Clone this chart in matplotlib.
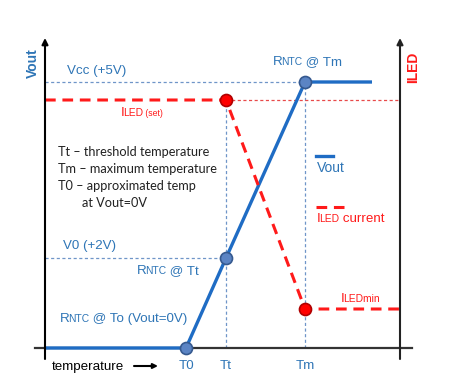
import matplotlib
matplotlib.use('Agg')
import matplotlib.pyplot as plt
import matplotlib.transforms as mtransforms

plt.rcParams['font.family'] = ['Liberation Sans', 'DejaVu Sans']

# temperature axis (arbitrary units), output level (arbitrary units)
t_labels = ['T0', 'Tt', 'Tm']
t_pos = [141, 181, 260]
t_end = 327          # end of Vout plateau
t_right = 355        # right (ILED) axis

vout_x = [0, 141, 181, 260, 327]
vout_y = [0, 0, 90, 266, 266]
vout_pts_x = [141, 181, 260]
vout_pts_y = [0, 90, 266]

iled_x = [0, 181, 260, 355]
iled_y = [248, 248, 39, 39]
iled_pts_x = [181, 260]
iled_pts_y = [248, 39]

v_cc, v_0 = 266, 90
iled_set = 248

BLUE = '#1f6cc4'
TBLUE = '#2e75b6'
RED = '#ff1a1a'
DOT = '#6f95c8'
FS = 9.6     # base label size
SC = 7.4     # small caps size

fig = plt.figure(figsize=(4.64, 3.9), dpi=100)
ax = fig.add_axes([0, 0, 1, 1])
ax.set_xlim(-45, 419)
ax.set_ylim(-42, 348)
ax.axis('off')

# helper lines
ax.plot([0, t_pos[2]], [v_cc, v_cc], color=DOT, lw=0.9, ls=(0, (2.5, 2)))
ax.plot([0, t_pos[1]], [v_0, v_0], color=DOT, lw=0.9, ls=(0, (2.5, 2)))
ax.plot([t_pos[1], t_pos[1]], [0, iled_set], color=DOT, lw=0.9, ls=(0, (2.5, 2)))
ax.plot([t_pos[2], t_pos[2]], [0, v_cc], color=DOT, lw=0.9, ls=(0, (2.5, 2)))
ax.plot([t_pos[1], t_right], [iled_set, iled_set], color='#e84a4a', lw=0.9, ls=(0, (2.5, 2)))

# axes
ax.plot([-10, 367], [0, 0], color='#333333', lw=1.6)
ax.annotate('', xy=(0, 310), xytext=(0, -11),
            arrowprops=dict(arrowstyle='-|>', color='black', lw=1.5, mutation_scale=9, shrinkA=0, shrinkB=0))
ax.annotate('', xy=(t_right, 310), xytext=(t_right, -11),
            arrowprops=dict(arrowstyle='-|>', color='#222222', lw=1.5, mutation_scale=9, shrinkA=0, shrinkB=0))

# curves
ax.plot(vout_x, vout_y, color=BLUE, lw=2.4, solid_capstyle='butt')
ax.plot(iled_x, iled_y, color=RED, lw=2.2, ls=(0, (3.5, 2.2)))
ax.scatter(vout_pts_x, vout_pts_y, s=75, color='#5b84c4', edgecolor='#35598f', lw=1.2, zorder=5)
ax.scatter(iled_pts_x, iled_pts_y, s=75, color='#ff0000', edgecolor='#b00000', lw=1.2, zorder=5)

renderer = fig.canvas.get_renderer()


def mixed(parts, x, y, color):
    # pieces of different size on one baseline, placed one after another
    tr = ax.transData
    for k, (s, fs) in enumerate(parts):
        txt = ax.text(x, y, s, color=color, fontsize=fs, va='baseline', ha='left', transform=tr)
        w = txt.get_window_extent(renderer).width
        tr = mtransforms.offset_copy(tr, x=w - (2 if k == 0 else 0), units='dots')


# axis titles
ax.text(-12, 285, 'Vout', color=TBLUE, fontsize=10, fontweight='bold', rotation=90, ha='center', va='center')
ax.text(368, 281, 'ILED', color=RED, fontsize=10, fontweight='bold', rotation=90, ha='center', va='center')

# labels
ax.text(22, 277, 'Vcc (+5V)', color=TBLUE, fontsize=FS, va='center')
ax.text(18, 102, 'V0 (+2V)', color=TBLUE, fontsize=FS, va='center')
mixed([('I', FS), ('LED', SC), (' (set)', 6.3)], 76, 232, RED)
mixed([('R', FS), ('NTC', SC), (' @ Tm', FS)], 228, 283, TBLUE)
mixed([('R', FS), ('NTC', SC), (' @ Tt', FS)], 92, 74, TBLUE)
mixed([('R', FS), ('NTC', SC), (' @ To (Vout=0V)', FS)], 15, 26, TBLUE)
mixed([('I', FS), ('LEDmin', SC)], 296, 46, RED)

# description block
desc = ['Tt \u2013 threshold temperature', 'Tm \u2013 maximum temperature',
        'T0 \u2013 approximated temp']
for i, line in enumerate(desc):
    ax.text(13, 196 - i * 17, line, color='#222222', fontsize=9.2, family='Lato', va='center')
ax.text(37, 145, 'at Vout=0V', color='#222222', fontsize=9.2, family='Lato', va='center')

# legend
ax.plot([271, 288], [192, 192], color=BLUE, lw=2.4)
ax.text(272, 180, 'Vout', color=TBLUE, fontsize=10, va='center')
ax.plot([271, 299], [141, 141], color=RED, lw=2.2, ls=(0, (3.5, 2.2)))
mixed([('I', FS), ('LED', SC), (' current', FS)], 272, 126, RED)

# x ticks
for lab, x in zip(t_labels, t_pos):
    ax.text(x, -18, lab, color=TBLUE, fontsize=FS, ha='center', va='center')
ax.text(7, -19, 'temperature', color='black', fontsize=FS, va='center')
ax.annotate('', xy=(113, -18), xytext=(89, -18),
            arrowprops=dict(arrowstyle='-|>', color='black', lw=1.5, mutation_scale=7, shrinkA=0, shrinkB=0))

fig.savefig('out.png', dpi=100)
